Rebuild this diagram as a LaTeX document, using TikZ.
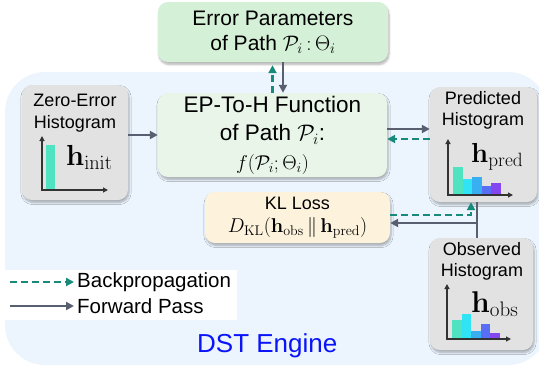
\RequirePackage{fix-cm}
\documentclass[tikz,border=0pt]{standalone}
\usepackage[no-math]{fontspec}
\setmainfont{Liberation Sans}
\usetikzlibrary{arrows.meta,shadows.blur}

\definecolor{panelblue}{RGB}{236,244,253}
\definecolor{paramgreen}{RGB}{212,240,215}
\definecolor{funcgreen}{RGB}{233,245,233}
\definecolor{histgrey}{RGB}{226,226,226}
\definecolor{losscream}{RGB}{253,243,220}
\definecolor{fwdgrey}{RGB}{88,96,112}
\definecolor{bpteal}{RGB}{23,138,122}
\definecolor{engineblue}{RGB}{10,20,250}
\definecolor{barA}{RGB}{80,227,194}
\definecolor{barB}{RGB}{48,228,245}
\definecolor{barC}{RGB}{55,175,240}
\definecolor{barD}{RGB}{88,110,245}
\definecolor{barE}{RGB}{132,70,240}

\newcommand{\setsz}[2]{\fontsize{#1}{#2}\selectfont}

\begin{document}
\begin{tikzpicture}[x=1pt,y=-1pt,
  box/.style={rounded corners=10pt, inner sep=0pt, align=center,
    blur shadow={shadow xshift=1pt, shadow yshift=-2.5pt, shadow blur steps=6, shadow opacity=30}},
  histbox/.style={box, fill=histgrey},
  fwd/.style={draw=fwdgrey, line width=2.4pt, -{Triangle[length=8pt,width=8pt]}},
  fwdline/.style={draw=fwdgrey, line width=2.4pt},
  bwd/.style={draw=bpteal, line width=2.4pt, dash pattern=on 7pt off 4pt, -{Triangle[length=8pt,width=8pt]}},
  axis/.style={draw=black!80, line width=1.2pt, -{Triangle[length=5pt,width=5pt]}},
  title/.style={align=center, inner sep=0pt, font=\setsz{18}{21.5}},
  hvec/.style={anchor=base west, inner sep=0pt}]

\useasboundingbox (0,0) rectangle (539,368);

% engine panel
\fill[panelblue, rounded corners=40pt] (5,72) rectangle (548,365);

% boxes
\node[box, fill=paramgreen, minimum width=230pt, minimum height=60pt,
      font=\setsz{21}{25}] (params) at (273,32)
  {Error Parameters\\of Path $\mathcal{P}_i\,{:}\,\Theta_i$};

\node[box, fill=funcgreen, minimum width=229pt, minimum height=84pt,
      font=\setsz{22.5}{28.5}] (func) at (272.5,135)
  {EP-To-H Function\\of Path $\mathcal{P}_i$:\\\setsz{20}{28.5}$f(\mathcal{P}_i;\Theta_i)$};

\node[box, fill=losscream, minimum width=185pt, minimum height=51pt,
      font=\setsz{18}{23}] (loss) at (297.5,217.5)
  {KL Loss\\\setsz{20}{23}$D_{\mathrm{KL}}(\mathbf{h}_{\mathrm{obs}}\,\|\,\mathbf{h}_{\mathrm{pred}})$};

\node[histbox, minimum width=106pt, minimum height=115pt] (zero) at (75,142.5) {};
\node[histbox, minimum width=107pt, minimum height=115pt] (pred) at (483.5,144.5) {};
\node[histbox, minimum width=103pt, minimum height=112pt] (obs) at (481.5,294) {};

% histogram titles
\node[title] (zerot) at (75,113) {Zero-Error\\Histogram};
\node[title] (predt) at (483,110.5) {Predicted\\Histogram};
\node[title] (obst) at (482,261.5) {Observed\\Histogram};

% zero-error histogram
\fill[barA] (46,145) rectangle (55,189);
\draw[axis] (42,190) -- (42,136);
\draw[axis] (41.4,190) -- (108,190);
\node[hvec, font=\setsz{29}{30}] (hinit) at (66,165) {$\mathbf{h}_{\mathrm{init}}$};

% predicted histogram
\fill[barA] (453,167) rectangle (462.6,194);
\fill[barB] (462.6,179) rectangle (472.2,194);
\fill[barC] (472.2,177) rectangle (481.8,194);
\fill[barD] (481.8,186) rectangle (491.4,194);
\fill[barE] (491.4,183) rectangle (501,194);
\draw[axis] (448,195) -- (448,139);
\draw[axis] (447.4,195) -- (513,195);
\node[hvec, font=\setsz{27.5}{30}] (hpred) at (471,162) {$\mathbf{h}_{\mathrm{pred}}$};

% observed histogram
\fill[barA] (452,320) rectangle (461.6,338);
\fill[barB] (461.6,314) rectangle (471.2,338);
\fill[barC] (471.2,331) rectangle (480.8,338);
\fill[barD] (480.8,324) rectangle (490.4,338);
\fill[barE] (490.4,333) rectangle (500,338);
\draw[axis] (447,339) -- (447,284);
\draw[axis] (446.4,339) -- (511,339);
\node[hvec, font=\setsz{30}{32}] (hobs) at (471,312) {$\mathbf{h}_{\mathrm{obs}}$};

% parameters <-> function
\draw[bwd] (func.north) -- ([yshift=-3pt]func.north |- params.south);
\draw[fwd] ([xshift=10pt]params.south) -- ([xshift=10pt]params.south |- func.north);

% zero-error histogram -> function
\draw[fwd] ([yshift=7.5pt]zero.east) -- ([yshift=7.5pt]zero.east -| func.west);

% function <-> predicted histogram
\draw[fwd] ([yshift=6pt]func.east) -- ([yshift=6pt]func.east -| pred.west);
\draw[bwd] ([yshift=-4pt]func.east -| pred.west) -- ([yshift=-4pt]func.east);

% histograms -> KL loss, and back to the prediction
\coordinate (join) at (477,223);
\coordinate (bend) at (471,215);
\draw[fwdline] (pred.south -| join) -- (obs.north -| join);
\draw[fwd] (join) -- (join -| loss.east);
\draw[bwd] (bend -| loss.east) -- (bend) -- (bend |- pred.south);

% legend
\fill[white] (5,270) rectangle (237,320);
\node[anchor=west, inner sep=0pt, font=\setsz{20.5}{24}] (lgbwd) at (77,282) {Backpropagation};
\node[anchor=west, inner sep=0pt, font=\setsz{20.5}{24}] (lgfwd) at (77,306) {Forward Pass};
\coordinate (lgb) at (10,282);
\coordinate (lgf) at (10,306);
\draw[bwd] (lgb) -- ([xshift=-3pt]lgbwd.west);
\draw[fwd] (lgf) -- ([xshift=-3pt]lgfwd.west);

% engine label
\node[anchor=base west, inner sep=0pt, text=engineblue, font=\setsz{26}{30}] (engine) at (197,352) {DST Engine};

\end{tikzpicture}
\end{document}
